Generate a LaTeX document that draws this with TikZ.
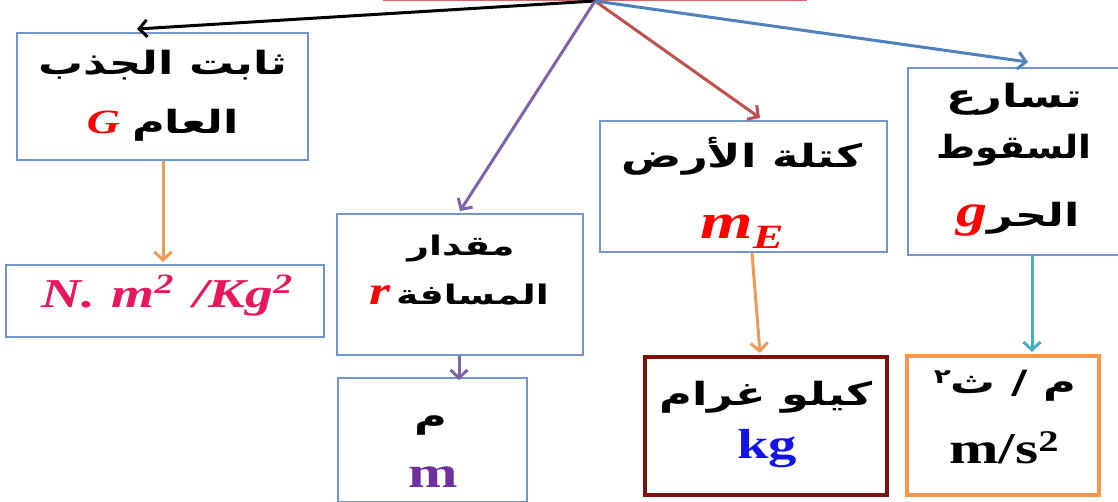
\documentclass[tikz,border=0pt]{standalone}
\usepackage{fontspec}
\setmainfont{Liberation Serif}
\newfontfamily\symfont[FakeStretch=1.35]{Liberation Serif}
\newfontfamily\arabicfont[Script=Arabic,FakeStretch=1.4]{DejaVu Sans}
\TeXXeTstate=1
\usetikzlibrary{arrows.meta,calc}

\definecolor{boxblue}{RGB}{112,150,205}
\definecolor{rootred}{RGB}{222,100,100}
\definecolor{arrorange}{RGB}{240,155,85}
\definecolor{arrpurple}{RGB}{128,100,170}
\definecolor{arrred}{RGB}{192,80,77}
\definecolor{arrblue}{RGB}{79,129,189}
\definecolor{arrteal}{RGB}{75,172,198}
\definecolor{varred}{RGB}{255,0,0}
\definecolor{unitpink}{RGB}{232,22,92}
\definecolor{unitpurple}{RGB}{112,48,160}
\definecolor{unitblue}{RGB}{20,20,230}
\definecolor{kgframe}{RGB}{128,16,10}
\definecolor{msframe}{RGB}{247,150,70}

% bold italic symbol: size, colour, text
\newcommand\vsym[3][varred]{{\symfont\bfseries\itshape\fontsize{#2}{#2}\selectfont\color{#1}#3}}
% upright bold unit: size, colour, text
\newcommand\usym[3][black]{{\symfont\bfseries\fontsize{#2}{#2}\selectfont\color{#1}#3}}

\tikzset{
  frame/.style={draw=boxblue, line width=1.8pt, anchor=north west, inner sep=0pt},
  ar/.style={font=\arabicfont\bfseries\fontsize{32}{38}\selectfont, inner sep=0pt},
  arsmall/.style={font=\arabicfont\bfseries\fontsize{27}{32}\selectfont, inner sep=0pt},
  lat/.style={inner sep=0pt, anchor=base},
  link/.style={line width=3pt, -{Straight Barb[length=8pt,width=17pt]}},
}

\begin{document}
\begin{tikzpicture}[x=1pt,y=-1pt]
\useasboundingbox (0,0) rectangle (1118,501);

% root box (only its lower edge shows)
\node[frame, draw=rootred, minimum width=422pt, minimum height=60pt, anchor=south west] (root) at (383,1) {};
\coordinate (src) at (595,1);

% concept boxes
\node[frame, minimum width=291pt, minimum height=127pt] (G)  at (16,32)  {};
\node[frame, minimum width=246pt, minimum height=141pt] (r)  at (336,213) {};
\node[frame, minimum width=287pt, minimum height=131pt] (mE) at (599,120) {};
\node[frame, minimum width=212pt, minimum height=187pt] (g)  at (907,67)  {};

% unit boxes
\node[frame, minimum width=318pt, minimum height=72pt]  (uG) at (5,264)   {};
\node[frame, minimum width=189pt, minimum height=124pt] (ur) at (337,377) {};
\node[frame, draw=kgframe, line width=3.5pt, minimum width=242pt, minimum height=138pt] (umE) at (643,355) {};
\node[frame, draw=msframe, line width=3.5pt, minimum width=192pt, minimum height=139pt] (ug) at (905,354) {};

% texts of the concept boxes
\node[ar] (tG1) at (163,65)  {\beginR ثابت الجذب\endR};
\node[ar, anchor=base] (tG2) at (163,133) {\vsym{34}{G}\hspace{12pt}\beginR العام\endR};
\node[arsmall] (tr1) at (461,249) {\beginR مقدار\endR};
\node[arsmall, anchor=base] (tr2) at (459,304) {\vsym{40}{r}\hspace{6pt}\beginR المسافة\endR};
\node[ar] (tE1) at (742,156) {\beginR كتلة الأرض\endR};
\node[lat] (tE2) at (742,238) {\vsym{50}{m}\raisebox{-10pt}{\vsym{34}{E}}};
\node[ar] (tg1) at (1014,99) {\beginR تسارع\endR};
\node[ar] (tg2) at (1014,150) {\scalebox{0.84}[1]{\beginR السقوط\endR}};
\node[ar, anchor=base] (tg3) at (1018,226) {\vsym{46}{g}\beginR الحر\endR};

% texts of the unit boxes
\node[lat] (tuG) at (167,307) {\vsym[unitpink]{41}{N.\hspace{16pt}m\raisebox{14pt}{\fontsize{28}{28}\selectfont 2}\hspace{20pt}/Kg\raisebox{14pt}{\fontsize{28}{28}\selectfont 2}}};
\node[ar] (tur1) at (431,425) {\beginR م\endR};
\node[lat] (tur2) at (433,487) {\usym[unitpurple]{44}{m}};
\node[ar] (tumE1) at (766,397) {\beginR كيلو غرام\endR};
\node[lat] (tumE2) at (767,458) {\usym[unitblue]{42}{kg}};
\node[ar] (tug1) at (1005,386) {\beginR م / ث\raisebox{10pt}{\fontsize{20}{20}\selectfont ٢}\endR};
\node[lat] (tug2) at (1004,463) {\usym{44}{m/s\raisebox{12pt}{\fontsize{30}{30}\selectfont 2}}};

% connectors from the root
\coordinate (eG)  at ($(G.north west)+(121pt,3pt)$);
\coordinate (er)  at ($(r.north west)+(124pt,2pt)$);
\coordinate (emE) at ($(mE.north west)+(161pt,2pt)$);
\coordinate (eg)  at ($(g.north west)+(121pt,5pt)$);
\draw[link, black]     (src) -- (eG);
\draw[link, arrpurple] (src) -- (er);
\draw[link, arrred]    (src) -- (emE);
\draw[link, arrblue]   (src) -- (eg);

% connectors down to the units
\draw[link, arrorange] ($(G.south west)+(147pt,0)$)  -- ($(uG.north west)+(158pt,2pt)$);
\draw[link, arrpurple] ($(r.south west)+(123pt,0)$)  -- ($(ur.north west)+(122pt,-3pt)$);
\draw[link, arrorange] ($(mE.south west)+(153pt,0)$) -- ($(umE.north west)+(117pt,2pt)$);
\draw[link, arrteal]   ($(g.south west)+(125pt,0)$)  -- ($(ug.north west)+(127pt,2pt)$);
\end{tikzpicture}
\end{document}
